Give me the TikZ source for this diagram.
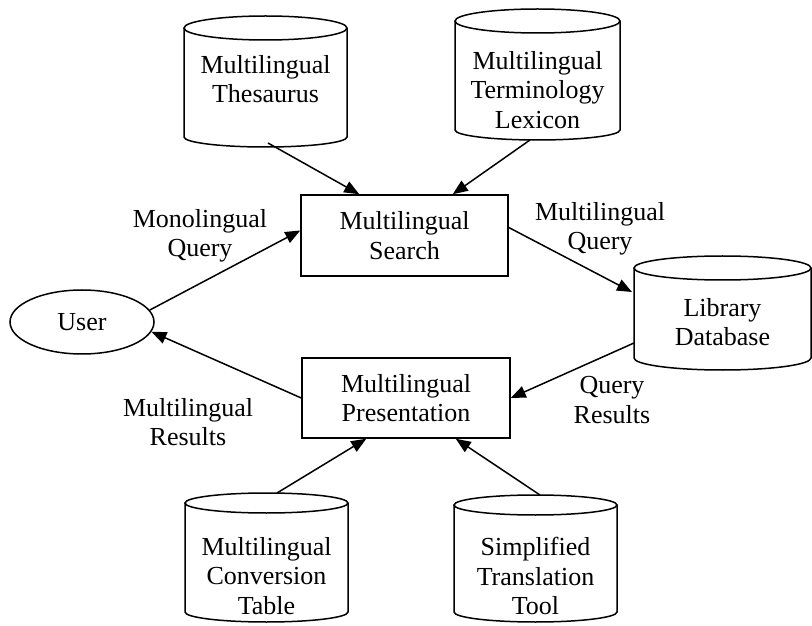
\documentclass[tikz,border=0pt]{standalone}
\usepackage{fontspec}
\setmainfont{Liberation Serif}
\usetikzlibrary{arrows.meta,shapes.geometric}

\begin{document}
\begin{tikzpicture}[x=1pt, y=1pt,
    line width=1.5pt,
    txt/.style={font=\fontsize{26}{29.5}\selectfont, align=center, inner sep=0pt},
    procbox/.style={draw, txt, minimum width=207pt, minimum height=81pt},
    flow/.style={-{Triangle[length=15pt,width=12pt]}, line width=1.5pt},
  ]
  \useasboundingbox (0,0) rectangle (812,625);

  % Databases (cylinders)
  \draw (184,597) -- (184,488) arc[start angle=180, end angle=360, x radius=81.5, y radius=10] -- (347,597);
  \draw (265.5,597) ellipse[x radius=81.5, y radius=12];
  \draw (455,604) -- (455,495) arc[start angle=180, end angle=360, x radius=82.5, y radius=10] -- (620,604);
  \draw (537.5,604) ellipse[x radius=82.5, y radius=12];
  \draw (634,357) -- (634,267) arc[start angle=180, end angle=360, x radius=88.5, y radius=12] -- (811,357);
  \draw (722.5,357) ellipse[x radius=88.5, y radius=12];
  \draw (185,122) -- (185,13) arc[start angle=180, end angle=360, x radius=81.5, y radius=10] -- (348,122);
  \draw (266.5,122) ellipse[x radius=81.5, y radius=10];
  \draw (454,120) -- (454,13) arc[start angle=180, end angle=360, x radius=81.5, y radius=10] -- (617,120);
  \draw (535.5,120) ellipse[x radius=81.5, y radius=10];

  \node[txt] (thes) at (265.5,546) {Multilingual\\Thesaurus};
  \node[txt] (lex) at (537.5,535) {Multilingual\\Terminology\\Lexicon};
  \node[txt] (libdb) at (722.5,303) {Library\\Database};
  \node[txt] (conv) at (266.5,49) {Multilingual\\Conversion\\Table};
  \node[txt] (simp) at (535.5,49) {Simplified\\Translation\\Tool};

  % Where the arrows leave / enter the cylinders
  \coordinate (thes-out) at (268,482);
  \coordinate (lex-out) at (530,485);
  \coordinate (libdb-in) at (632,333);
  \coordinate (libdb-out) at (634,282);
  \coordinate (conv-out) at (277,132);
  \coordinate (simp-out) at (540,130);

  % Processes and user
  \node[procbox] (search) at (404.5,389.5) {Multilingual\\Search};
  \node[procbox, minimum width=208pt, minimum height=80pt] (present) at (406,227) {Multilingual\\Presentation};
  \node[draw, ellipse, txt, minimum width=144pt, minimum height=64pt] (user) at (82,303) {User};

  % Flows
  \draw[flow] (thes-out) -- ([xshift=59pt]search.north west);
  \draw[flow] (lex-out) -- ([xshift=-56pt]search.north east);
  \draw[flow] (user.10) -- ([yshift=5pt]search.west);
  \draw[flow] ([yshift=8pt]search.east) -- (libdb-in);
  \draw[flow] (libdb-out) -- (present.east);
  \draw[flow] (present.west) -- (user.-8);
  \draw[flow] (conv-out) -- ([xshift=65pt]present.south west);
  \draw[flow] (simp-out) -- ([xshift=-55pt]present.south east);

  % Flow labels
  \node[txt] (lbl-monoq) at (200,389) {Monolingual\\Query};
  \node[txt] (lbl-multiq) at (600,396) {Multilingual\\Query};
  \node[txt] (lbl-qres) at (612,225) {Query\\Results};
  \node[txt] (lbl-multires) at (188,203) {Multilingual\\Results};
\end{tikzpicture}
\end{document}
